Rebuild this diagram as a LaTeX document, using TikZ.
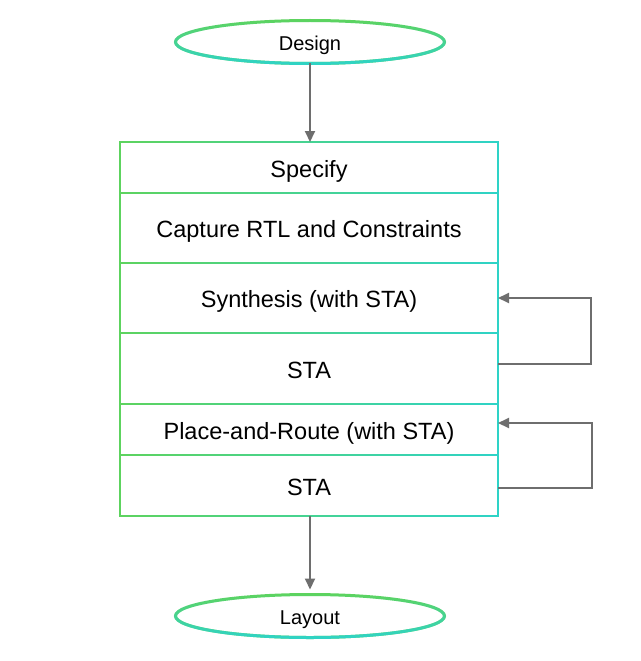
\documentclass[tikz,border=0pt]{standalone}
\usepackage{fontspec}
\setmainfont{Liberation Sans}
\usetikzlibrary{shapes.geometric,arrows.meta,fadings}
\definecolor{gGreen}{RGB}{94,211,94}
\definecolor{gCyan}{RGB}{46,211,200}
\definecolor{arrowGray}{RGB}{110,110,110}
\tikzfading[name=fadeR, left color=transparent!100, right color=transparent!0]
\tikzfading[name=fadeD, top color=transparent!100, bottom color=transparent!0]
\begin{document}
\begin{tikzpicture}[x=1pt,y=-1pt,
  row/.style={rectangle, minimum width=378pt, inner sep=0pt, outer sep=0pt,
    font=\fontsize{23.5}{27}\selectfont, text height=19.5pt, text depth=0pt},
  term/.style={ellipse, minimum width=269pt, minimum height=43pt, inner sep=0pt,
    outer sep=0pt, font=\fontsize{20}{24}\selectfont, text height=17pt, text depth=0pt,
    draw=gGreen, line width=3pt, fill=white},
  termfade/.style={draw=gCyan, line width=3pt, path fading=fadeD, fit fading=true},
  gridgreen/.style={draw=gGreen, line width=2pt},
  gridfade/.style={draw=gCyan, line width=2pt, path fading=fadeR, fit fading=true},
  flow/.style={draw=arrowGray, line width=2pt, -{Triangle[length=11pt,width=10pt]}},
]
\useasboundingbox[fill=white] (0,0) rectangle (640,661);

% terminals
\node[term] (design) at (310,42) {Design};
\draw[termfade] (design.center) ellipse [x radius=134.5pt, y radius=21.5pt];
\node[term] (layout) at (310,616) {Layout};
\draw[termfade] (layout.center) ellipse [x radius=134.5pt, y radius=21.5pt];

% rows
\node[row, minimum height=51pt] (spec) at (309,167.5) {Specify};
\node[row, minimum height=70pt] (cap)  at (309,228) {Capture RTL and Constraints};
\node[row, minimum height=70pt] (syn)  at (309,298) {Synthesis (with STA)};
\node[row, minimum height=71pt] (sta1) at (309,368.5) {STA};
\node[row, minimum height=51pt] (pr)   at (309,429.5) {Place-and-Route (with STA)};
\node[row, minimum height=61pt] (sta2) at (309,485.5) {STA};

% box outline and dividers (green, then cyan fading in towards the right)
\draw[gridgreen] (spec.north west) rectangle (sta2.south east)
  (spec.south west) -- (spec.south east)
  (cap.south west) -- (cap.south east)
  (syn.south west) -- (syn.south east)
  (sta1.south west) -- (sta1.south east)
  (pr.south west) -- (pr.south east);
\draw[gridfade] (spec.north west) rectangle (sta2.south east)
  (spec.south west) -- (spec.south east)
  (cap.south west) -- (cap.south east)
  (syn.south west) -- (syn.south east)
  (sta1.south west) -- (sta1.south east)
  (pr.south west) -- (pr.south east);

% connectors
\draw[flow] (design.south) -- (design.south |- spec.north);
\draw[flow, shorten >=5pt] (layout.north |- sta2.south) -- (layout.north);
\draw[flow] ([yshift=4.5pt]sta1.east) -- ++(93,0) |- (syn.east);
\draw[flow] ([yshift=-2.5pt]sta2.east) -- ++(94,0) |- ([yshift=6.5pt]pr.east);
\end{tikzpicture}
\end{document}
